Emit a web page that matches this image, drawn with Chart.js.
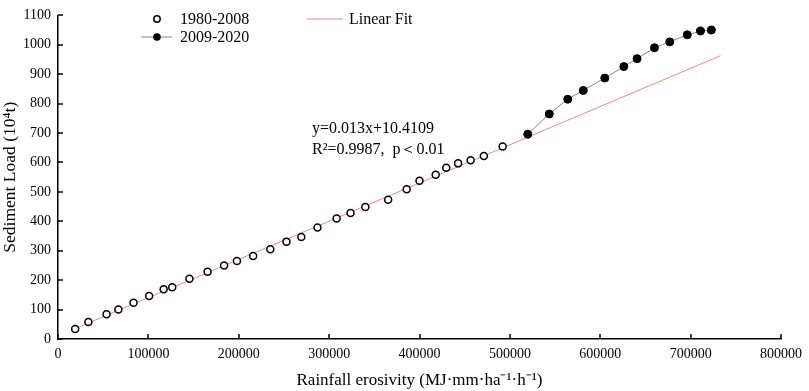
<!DOCTYPE html>
<html>
<head>
<meta charset="utf-8">
<script src="https://cdn.jsdelivr.net/npm/chart.js@4.4.0/dist/chart.umd.min.js"></script>
<style>
  html, body { margin: 0; padding: 0; background: #fff; }
  #wrap { width: 809px; height: 391px; }
</style>
</head>
<body>
<div id="wrap"><canvas id="chart"></canvas></div>
<script>
// 1980-2008 (open circles)
const earlyX = [19000, 33600, 53700, 66800, 83600, 100800, 116900, 126400, 145400, 165500,
                183800, 198000, 215900, 234900, 252800, 269200, 287100, 308300, 323700, 340100,
                365300, 385800, 400000, 417900, 429600, 442700, 456600, 471200, 492000];
const earlyY = [34, 58, 84, 100, 123, 146, 169, 176, 205, 229,
                250, 265, 282, 305, 331, 347, 379, 410, 428, 449,
                473, 509, 538, 558, 582, 597, 608, 622, 654];
// 2009-2020 (filled circles, joined)
const lateX = [519800, 543600, 564000, 581200, 605000, 626100, 640700, 660000, 676900, 696300, 710900, 722900];
const lateY = [696, 765, 815, 845, 887, 926, 953, 990, 1010, 1034, 1047, 1050];
// linear fit end points
const fitX = [18000, 733000];
const fitY = [34, 963];

const serif = '"Liberation Serif", "Times New Roman", serif';
const fitColor = '#f48383';

const toPts = (xs, ys) => xs.map((x, i) => ({ x: x, y: ys[i] }));

const extras = {
  id: 'extras',
  afterDraw(chart) {
    const { ctx, scales: { x, y }, chartArea: a } = chart;
    ctx.save();
    // inner ticks
    ctx.strokeStyle = '#000';
    ctx.lineWidth = 1.5;
    ctx.beginPath();
    x.ticks.forEach(t => {
      const px = Math.round(x.getPixelForValue(t.value));
      ctx.moveTo(px, a.bottom);
      ctx.lineTo(px, a.bottom - 5);
    });
    y.ticks.forEach(t => {
      const py = Math.round(y.getPixelForValue(t.value));
      ctx.moveTo(a.left, py);
      ctx.lineTo(a.left + 5, py);
    });
    ctx.stroke();

    // legend
    ctx.font = '16px ' + serif;
    ctx.fillStyle = '#000';
    ctx.textBaseline = 'middle';
    ctx.textAlign = 'left';
    ctx.lineWidth = 1.5;
    ctx.beginPath();
    ctx.arc(157, 19, 3.2, 0, Math.PI * 2);
    ctx.fillStyle = '#fff';
    ctx.fill();
    ctx.stroke();
    ctx.fillStyle = '#000';
    ctx.fillText('1980-2008', 180, 20);

    ctx.strokeStyle = '#888';
    ctx.lineWidth = 1;
    ctx.beginPath();
    ctx.moveTo(141, 37);
    ctx.lineTo(172, 37);
    ctx.stroke();
    ctx.beginPath();
    ctx.arc(157, 37, 3.8, 0, Math.PI * 2);
    ctx.fill();
    ctx.fillText('2009-2020', 180, 38);

    ctx.strokeStyle = fitColor;
    ctx.beginPath();
    ctx.moveTo(307, 19);
    ctx.lineTo(343, 19);
    ctx.stroke();
    ctx.fillText('Linear Fit', 349, 20);

    // equation
    ctx.fillText('y=0.013x+10.4109', 312, 129);
    ctx.fillText('R\u00B2=0.9987,  p\uFF1C0.01', 312, 150);
    ctx.restore();
  }
};

new Chart(document.getElementById('chart'), {
  type: 'scatter',
  data: {
    datasets: [
      {
        label: '1980-2008',
        data: toPts(earlyX, earlyY),
        pointRadius: 3.5,
        pointBorderWidth: 1.5,
        pointBackgroundColor: '#fff',
        pointBorderColor: '#000',
        order: 1
      },
      {
        label: '2009-2020',
        data: toPts(lateX, lateY),
        showLine: true,
        borderColor: '#888',
        borderWidth: 1,
        pointRadius: 4,
        pointBackgroundColor: '#000',
        pointBorderColor: '#000',
        order: 0
      },
      {
        label: 'Linear Fit',
        data: toPts(fitX, fitY),
        showLine: true,
        borderColor: fitColor,
        borderWidth: 1,
        pointRadius: 0,
        order: 2
      }
    ]
  },
  plugins: [extras],
  options: {
    responsive: true,
    maintainAspectRatio: false,
    animation: false,
    layout: { padding: { top: 5, right: 21, left: 0, bottom: 0 } },
    plugins: {
      legend: { display: false },
      tooltip: { enabled: false }
    },
    scales: {
      x: {
        type: 'linear',
        min: 0,
        max: 800000,
        afterFit: s => { s.height = 52; },
        afterBuildTicks: s => { s.ticks = [0, 1, 2, 3, 4, 5, 6, 7, 8].map(v => ({ value: v * 100000 })); },
        grid: { drawOnChartArea: false, drawTicks: false },
        border: { color: '#000', width: 1.5 },
        ticks: {
          color: '#000',
          padding: 7,
          maxRotation: 0,
          font: { family: serif, size: 14 },
          callback: v => String(v)
        },
        title: {
          display: true,
          text: 'Rainfall erosivity (MJ\u00B7mm\u00B7ha\u207B\u00B9\u00B7h\u207B\u00B9)',
          color: '#000',
          font: { family: serif, size: 17 },
          padding: { top: 3, bottom: 0 }
        }
      },
      y: {
        min: 0,
        max: 1100,
        afterFit: s => { s.width = 58; },
        afterBuildTicks: s => { s.ticks = [0, 1, 2, 3, 4, 5, 6, 7, 8, 9, 10, 11].map(v => ({ value: v * 100 })); },
        grid: { drawOnChartArea: false, drawTicks: false },
        border: { color: '#000', width: 1.5 },
        ticks: {
          color: '#000',
          padding: 7,
          font: { family: serif, size: 14 },
          callback: v => String(v)
        },
        title: {
          display: true,
          text: 'Sediment Load (10\u2074t)',
          color: '#000',
          font: { family: serif, size: 17.5 },
          padding: { top: 0, bottom: 0 }
        }
      }
    }
  }
});
</script>
</body>
</html>
